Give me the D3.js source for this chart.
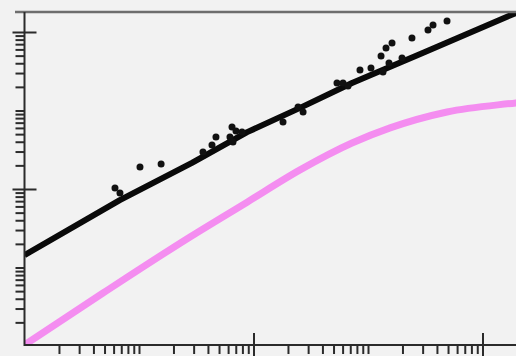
<!DOCTYPE html>
<html>
<head>
<meta charset="utf-8">
<script src="https://cdn.jsdelivr.net/npm/d3@7"></script>
<style>
  html, body { margin: 0; padding: 0; background: #f2f2f2; overflow: hidden; }
  #chart { width: 516px; height: 356px; }
  .axis path.domain { display: none; }
  .axis line { stroke: #2b2b2b; stroke-width: 2; }
</style>
</head>
<body>
<div id="chart"></div>
<script>
// black fitted curve
const fitX = [1, 6.8, 29, 88, 255, 725, 3000, 19600, 39000];
const fitY = [14.4, 72, 215, 530, 1080, 2240, 5400, 17500, 27000];

// pink model curve
const modelX = [1, 4.85, 27.9, 88, 255, 725, 1560, 4900, 19600, 47500];
const modelY = [1.03, 4.73, 24.5, 68, 175, 385, 600, 957, 1250, 1440];

// observed points
const obsX = [6.17, 6.82, 10.2, 15.6, 36.2, 43.4, 47, 62.3, 66.2, 64.9,
  70.3, 79.4, 181, 245, 271, 536, 605, 669, 851, 1062,
  1300, 1437, 1621, 1352, 1525, 1982, 2421, 3342, 3697, 4900];
const obsY = [103, 89, 190, 208, 296, 364, 459, 459, 397, 616,
  548, 532, 714, 1109, 957, 2239, 2239, 2050, 3280, 3480,
  4940, 6250, 7240, 3090, 4030, 4670, 8390, 10600, 12270, 13800];

// labelled decades (long ticks)
const majorTicks = [1, 100, 10000];

class LogChart {
  constructor(parentElement) {
    this.parentElement = parentElement;
  }

  initVis() {
    let vis = this;

    vis.width = 516;
    vis.height = 356;
    vis.left = 24.5;
    vis.top = 12;
    vis.bottom = 345;

    vis.svg = d3
      .select("#" + vis.parentElement)
      .append("svg")
      .attr("width", vis.width)
      .attr("height", vis.height);

    vis.svg
      .append("rect")
      .attr("width", vis.width)
      .attr("height", vis.height)
      .attr("fill", "#f2f2f2");

    // one decade is ~114.5px wide on x and ~78.5px tall on y
    vis.x = d3.scaleLog().domain([1, 1e5]).range([vis.left, vis.left + 5 * 114.5]);
    vis.y = d3.scaleLog().domain([1, 1e5]).range([346, 346 - 5 * 78.5]);

    vis.svg
      .append("clipPath")
      .attr("id", "plot-clip")
      .append("rect")
      .attr("x", vis.left)
      .attr("y", vis.top)
      .attr("width", vis.width)
      .attr("height", vis.bottom - vis.top);

    vis.wrangleData();
  }

  wrangleData() {
    let vis = this;

    vis.fitData = fitX.map(function (d, i) {
      return { x: d, y: fitY[i] };
    });
    vis.modelData = modelX.map(function (d, i) {
      return { x: d, y: modelY[i] };
    });
    vis.obsData = obsX.map(function (d, i) {
      return { x: d, y: obsY[i] };
    });

    let yMax = vis.y.invert(vis.top);
    vis.xMinor = vis.x.ticks().filter(function (d) {
      return majorTicks.indexOf(d) === -1;
    });
    vis.yMinor = vis.y.ticks().filter(function (d) {
      return majorTicks.indexOf(d) === -1 && d <= yMax;
    });

    vis.updateVis();
  }

  updateVis() {
    let vis = this;

    let line = d3
      .line()
      .x(function (d) {
        return vis.x(d.x);
      })
      .y(function (d) {
        return vis.y(d.y);
      })
      .curve(d3.curveLinear);

    let plot = vis.svg.append("g").attr("clip-path", "url(#plot-clip)");

    plot
      .append("path")
      .datum(vis.modelData)
      .attr("d", line.curve(d3.curveMonotoneX))
      .attr("fill", "none")
      .attr("stroke", "#f48df0")
      .attr("stroke-width", 7)
      .attr("stroke-linejoin", "round");

    plot
      .append("path")
      .datum(vis.fitData)
      .attr("d", line.curve(d3.curveLinear))
      .attr("fill", "none")
      .attr("stroke", "#0a0a0a")
      .attr("stroke-width", 6)
      .attr("stroke-linejoin", "round");

    plot
      .selectAll(".obs")
      .data(vis.obsData)
      .enter()
      .append("circle")
      .attr("class", "obs")
      .attr("cx", function (d) {
        return vis.x(d.x);
      })
      .attr("cy", function (d) {
        return vis.y(d.y);
      })
      .attr("r", 3.5)
      .attr("fill", "#111");

    // y axis: minor ticks outside, major ticks crossing the axis
    vis.svg
      .append("g")
      .attr("class", "axis")
      .attr("transform", "translate(" + vis.left + ",0)")
      .call(d3.axisLeft(vis.y).tickValues(vis.yMinor).tickSize(9).tickFormat(""));
    vis.svg
      .append("g")
      .attr("class", "axis")
      .attr("transform", "translate(" + vis.left + ",0)")
      .call(d3.axisLeft(vis.y).tickValues(majorTicks.slice(1)).tickSize(12).tickFormat(""));
    vis.svg
      .append("g")
      .attr("class", "axis")
      .attr("transform", "translate(" + vis.left + ",0)")
      .call(d3.axisRight(vis.y).tickValues(majorTicks.slice(1)).tickSize(12).tickFormat(""));

    // x axis
    vis.svg
      .append("g")
      .attr("class", "axis")
      .attr("transform", "translate(0," + vis.bottom + ")")
      .call(d3.axisBottom(vis.x).tickValues(vis.xMinor).tickSize(9).tickFormat(""));
    vis.svg
      .append("g")
      .attr("class", "axis")
      .attr("transform", "translate(0," + vis.bottom + ")")
      .call(d3.axisBottom(vis.x).tickValues(majorTicks.slice(1)).tickSize(12).tickFormat(""));
    vis.svg
      .append("g")
      .attr("class", "axis")
      .attr("transform", "translate(0," + vis.bottom + ")")
      .call(d3.axisTop(vis.x).tickValues(majorTicks.slice(1)).tickSize(12).tickFormat(""));

    // frame
    vis.svg
      .append("line")
      .attr("x1", 15)
      .attr("x2", vis.width)
      .attr("y1", vis.top)
      .attr("y2", vis.top)
      .attr("stroke", "#6e6e6e")
      .attr("stroke-width", 2.5);

    vis.svg
      .append("line")
      .attr("x1", vis.left)
      .attr("x2", vis.left)
      .attr("y1", vis.top)
      .attr("y2", vis.bottom + 1)
      .attr("stroke", "#2b2b2b")
      .attr("stroke-width", 2);

    vis.svg
      .append("line")
      .attr("x1", vis.left)
      .attr("x2", vis.width)
      .attr("y1", vis.bottom)
      .attr("y2", vis.bottom)
      .attr("stroke", "#2b2b2b")
      .attr("stroke-width", 2);
  }
}

let chart = new LogChart("chart");
chart.initVis();
</script>
</body>
</html>
